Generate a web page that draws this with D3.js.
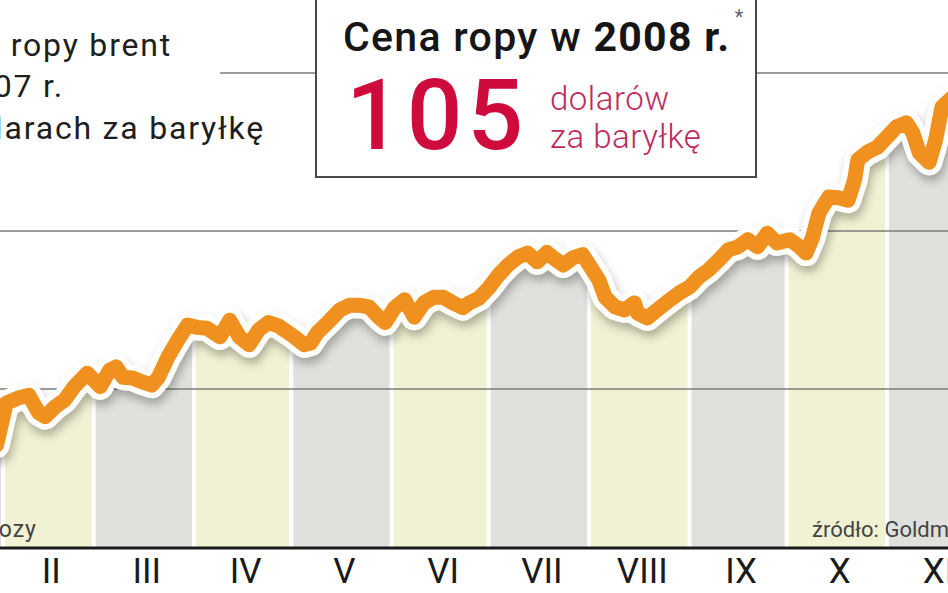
<!DOCTYPE html>
<html>
<head>
<meta charset="utf-8">
<script src="https://cdn.jsdelivr.net/npm/d3@7"></script>
<style>
  body { margin: 0; background: #fff; }
  svg { display: block; }
</style>
</head>
<body>
<svg id="chart" width="948" height="593"></svg>
<script>
// Brent 2007 (USD / barrel)
const months = ["I", "II", "III", "IV", "V", "VI", "VII", "VIII", "IX", "X", "XI"];
const dates = ["2007-01-30","2007-02-02","2007-02-06","2007-02-09","2007-02-12","2007-02-14","2007-02-17","2007-02-20","2007-02-23","2007-02-27",
  "2007-03-03","2007-03-06","2007-03-08","2007-03-10","2007-03-13","2007-03-16","2007-03-19","2007-03-21","2007-03-24","2007-03-27","2007-03-30",
  "2007-04-02","2007-04-05","2007-04-09","2007-04-12","2007-04-15","2007-04-18","2007-04-21","2007-04-24","2007-04-27",
  "2007-05-02","2007-05-05","2007-05-07","2007-05-09","2007-05-13","2007-05-16","2007-05-19","2007-05-22","2007-05-25","2007-05-28","2007-05-30",
  "2007-06-02","2007-06-05","2007-06-08","2007-06-11","2007-06-14","2007-06-17","2007-06-20","2007-06-23","2007-06-25","2007-06-28",
  "2007-07-01","2007-07-04","2007-07-07","2007-07-10","2007-07-13","2007-07-16","2007-07-19","2007-07-21","2007-07-24","2007-07-27","2007-07-30",
  "2007-08-02","2007-08-04","2007-08-06","2007-08-09","2007-08-12","2007-08-15","2007-08-16","2007-08-19","2007-08-22","2007-08-26","2007-08-29",
  "2007-09-01","2007-09-04","2007-09-07","2007-09-10","2007-09-13","2007-09-16","2007-09-19","2007-09-22","2007-09-25","2007-09-28",
  "2007-10-02","2007-10-05","2007-10-07","2007-10-09","2007-10-11","2007-10-14","2007-10-17","2007-10-20","2007-10-22","2007-10-23","2007-10-26","2007-10-29",
  "2007-11-01","2007-11-04","2007-11-07","2007-11-09","2007-11-11","2007-11-14","2007-11-16","2007-11-18","2007-11-22"];
const prices = [52.9,58.2,58.9,59.2,57.0,56.5,57.7,58.6,60.3,62.0,
  60.3,62.4,62.8,61.5,61.4,60.9,60.5,61.5,64.1,66.2,68.1,
  67.8,67.7,66.6,68.7,66.6,65.6,67.5,68.4,68.0,
  66.6,65.6,65.8,67.1,68.7,70.0,70.6,70.6,70.4,69.1,68.4,
  70.3,71.3,69.1,70.9,71.6,71.6,70.9,70.3,70.9,71.5,
  72.8,74.4,75.7,76.7,77.2,76.1,77.3,76.6,75.7,76.6,77.0,
  75.1,73.8,71.6,70.4,70.0,70.9,69.6,69.0,70.0,71.3,72.2,
  72.9,74.2,75.1,76.3,77.6,78.0,78.9,78.0,79.7,78.5,
  78.9,78.0,77.2,79.2,82.3,84.3,84.2,83.9,86.5,89.0,90.0,90.6,
  91.9,93.2,93.7,92.4,89.9,88.7,91.5,95.7,97.2];
const gridValues = [60, 80, 100];
const forecast = "105";

const width = 948;
const height = 593;
const baseY = 547;

const parse = d3.timeParse("%Y-%m-%d");
const series = dates.map((d, i) => ({ date: parse(d), price: prices[i] }));

const svg = d3.select("#chart");

const x = d3.scaleTime()
  .domain([new Date(2007, 1, 1), new Date(2007, 10, 1)])
  .range([3, 887]);

const y = d3.scaleLinear()
  .domain([40, 100])
  .range([baseY, 73]);

const defs = svg.append("defs");

const shadow = defs.append("filter").attr("id", "shadow")
  .attr("x", "-10%").attr("y", "-20%").attr("width", "120%").attr("height", "160%");
shadow.append("feDropShadow")
  .attr("dx", 2).attr("dy", 6).attr("stdDeviation", 5)
  .attr("flood-color", "#000").attr("flood-opacity", 0.28);

const area = d3.area()
  .x(d => x(d.date))
  .y0(baseY)
  .y1(d => y(d.price));

defs.append("clipPath").attr("id", "under")
  .append("path")
  .attr("d", area(series));

// month bands, alternating grey / cream, only under the line
const bands = months.map((m, i) => ({
  name: m,
  start: new Date(2007, i, 1),
  end: new Date(2007, i + 1, 1),
  fill: i % 2 === 0 ? "#e0e1dc" : "#f1f1d3"
}));

svg.append("g")
  .attr("clip-path", "url(#under)")
  .selectAll("rect")
  .data(bands)
  .join("rect")
  .attr("x", d => x(d.start) + 2)
  .attr("width", d => x(d.end) - x(d.start) - 4)
  .attr("y", 0)
  .attr("height", baseY)
  .attr("fill", d => d.fill);

// grid lines
svg.append("g")
  .selectAll("line")
  .data(gridValues)
  .join("line")
  .attr("x1", d => d === 100 ? 220 : 0)
  .attr("x2", width)
  .attr("y1", d => y(d))
  .attr("y2", d => y(d))
  .attr("stroke", "#7d7d7d")
  .attr("stroke-width", 1.5);

// line with white halo and shadow
const line = d3.line()
  .x(d => x(d.date))
  .y(d => y(d.price));

svg.append("path")
  .attr("d", line(series))
  .attr("fill", "none")
  .attr("stroke", "#fff")
  .attr("stroke-width", 26)
  .attr("stroke-linejoin", "round")
  .attr("stroke-linecap", "round")
  .attr("filter", "url(#shadow)");

svg.append("path")
  .attr("d", line(series))
  .attr("fill", "none")
  .attr("stroke", "#f0911f")
  .attr("stroke-width", 15)
  .attr("stroke-linejoin", "round")
  .attr("stroke-linecap", "round");

// x axis
svg.append("line")
  .attr("x1", 0).attr("x2", width)
  .attr("y1", baseY + 1).attr("y2", baseY + 1)
  .attr("stroke", "#1a1a1a")
  .attr("stroke-width", 3);

// January's label sits left of the visible part, so only label Feb..Nov
svg.append("g")
  .selectAll("text")
  .data(bands.filter(d => x(d.start) >= 0))
  .join("text")
  .attr("x", d => (x(d.start) + x(d.end)) / 2 + 3)
  .attr("y", 583)
  .attr("text-anchor", "middle")
  .style("font-family", "'Liberation Sans Narrow', 'Roboto', sans-serif")
  .style("font-size", "35px")
  .attr("fill", "#1a1a1a")
  .text(d => d.name);

// notes at the bottom
svg.append("text")
  .attr("x", 37).attr("y", 537)
  .attr("text-anchor", "end")
  .style("font-family", "Roboto, sans-serif")
  .style("font-size", "23px")
  .style("letter-spacing", "1px")
  .attr("fill", "#444")
  .text("* prognozy");

svg.append("text")
  .attr("x", 812).attr("y", 537)
  .style("font-family", "Roboto, sans-serif")
  .style("font-size", "22px")
  .attr("fill", "#444")
  .text("źródło: Goldman Sachs");

// left title
const title = svg.append("g")
  .style("font-family", "Roboto, sans-serif")
  .style("font-size", "32px")
  .style("letter-spacing", "1.8px")
  .attr("fill", "#1e1e1e")
  .attr("text-anchor", "end");
title.append("text").attr("x", 172).attr("y", 56).text("Cena ropy brent");
title.append("text").attr("x", 64).attr("y", 97).text("w 2007 r.");
title.append("text").attr("x", 265).attr("y", 139).text("w dolarach za baryłkę");

// forecast box
const box = svg.append("g");
box.append("rect")
  .attr("x", 316).attr("y", -3)
  .attr("width", 440).attr("height", 180)
  .attr("fill", "#fff")
  .attr("stroke", "#4a4a4a")
  .attr("stroke-width", 2);

const head = box.append("text")
  .attr("x", 343).attr("y", 51)
  .style("font-family", "Roboto, sans-serif")
  .style("font-size", "41px")
  .style("letter-spacing", "1.3px")
  .attr("fill", "#161616");
head.append("tspan").style("font-weight", 500).text("Cena ropy w ");
head.append("tspan").style("font-weight", 700).text("2008 r.");

box.append("text")
  .attr("x", 739).attr("y", 24)
  .attr("text-anchor", "middle")
  .style("font-family", "Roboto, sans-serif")
  .style("font-size", "20px")
  .attr("fill", "#666")
  .text("*");

box.append("text")
  .attr("x", 346).attr("y", 149)
  .style("font-family", "Roboto, sans-serif")
  .style("font-size", "98px")
  .style("font-weight", 500)
  .style("letter-spacing", "5px")
  .attr("fill", "#cf0b3d")
  .text(forecast);

const unit = box.append("g")
  .style("font-family", "Roboto, sans-serif")
  .style("font-size", "33px")
  .style("font-weight", 300)
  .style("letter-spacing", "0.5px")
  .attr("fill", "#be2a5c");
unit.append("text").attr("x", 550).attr("y", 110).text("dolarów");
unit.append("text").attr("x", 550).attr("y", 148).text("za baryłkę");
</script>
</body>
</html>
